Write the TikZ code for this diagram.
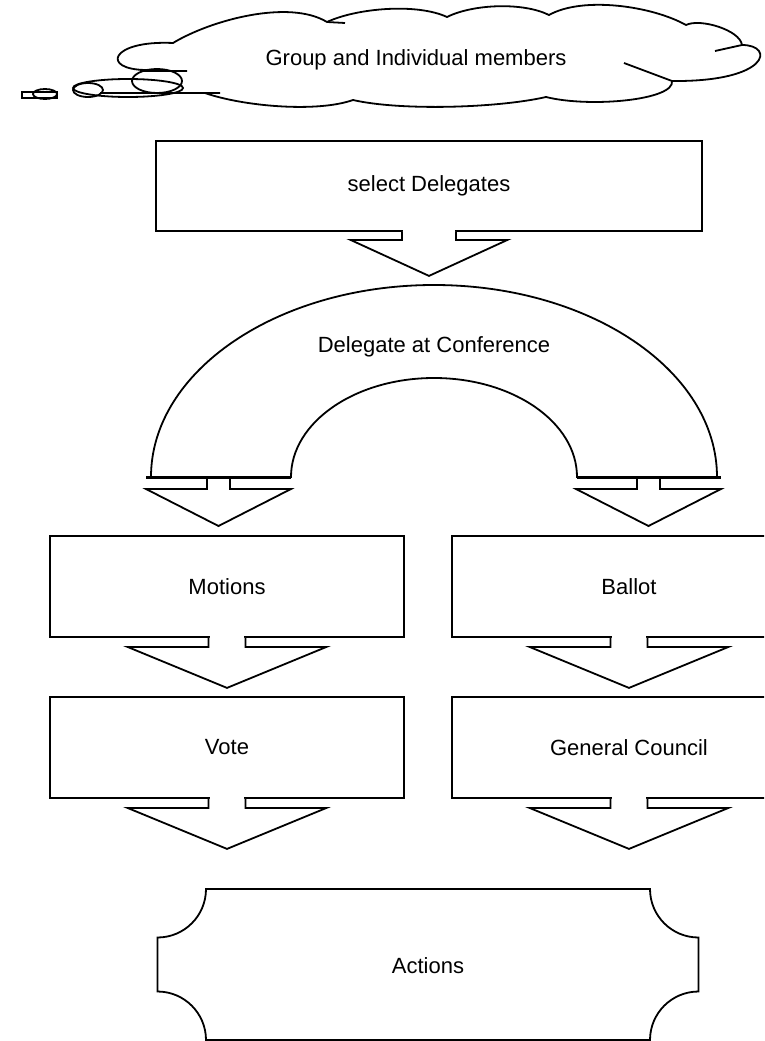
\documentclass[tikz,border=0pt]{standalone}
\usepackage{fontspec}
\setmainfont{Liberation Sans}
\begin{document}
\begin{tikzpicture}[x=1pt,y=-1pt,line width=1.8pt,
    blk/.style={draw,rectangle,inner sep=0pt,font=\fontsize{22}{26}\selectfont},
    lbl/.style={font=\fontsize{22}{26}\selectfont},
    pics/blockarrow/.style n args={4}{code={
        \fill[white] (-#1+1.3,-2.2) rectangle (#1-1.3,2.2);
        \draw[fill=white] (-#1,0) -- (-#1,#2) -- (-#3,#2) -- (0,#2+#4)
            -- (#3,#2) -- (#1,#2) -- (#1,0);
    }}
                   ]
    \clip (0,0) rectangle (764,1041);

    % cloud
    \draw (147,70) .. controls (100,70) and (110,40) .. (173,43)
        .. controls (211,20) and (289,-1) .. (327,22)
        .. controls (357,8) and (417,3) .. (447,17)
        .. controls (473,4) and (523,2) .. (549,15)
        .. controls (583,-4) and (652,6) .. (686,25)
        .. controls (700,18) and (740,30) .. (742,45)
        .. controls (775,45) and (770,82) .. (672,81)
        .. controls (675,100) and (590,108) .. (546,97)
        .. controls (498,108) and (401,111) .. (353,100)
        .. controls (316,113) and (242,106) .. (205,93);
    \draw (624,63) -- (672,81) (715,51) -- (742,45) (327,22) -- (345,23)
        (140,71) -- (187,71) (100,93) -- (220,93);
    \draw (157,81) ellipse[x radius=25,y radius=12];
    \draw (128,88) ellipse[x radius=55,y radius=9];
    \draw (88,90) ellipse[x radius=15,y radius=7];
    \draw (45,94) ellipse[x radius=12,y radius=5];
    \draw (22,92) rectangle (57,98);
    \node[lbl] (grp) at (416,60) {Group and Individual members};

    \node[blk,minimum width=546pt,minimum height=90pt] (sel) at (429,186) {select Delegates};
    \pic at (sel.south) {blockarrow={27}{8}{78.5}{36}};

    % arch
    \draw (151,477) arc[start angle=180,end angle=360,x radius=283,y radius=192]
        -- (577,477) arc[start angle=0,end angle=-180,x radius=143,y radius=99] -- cycle;
    \node[lbl] (conf) at (434,347) {Delegate at Conference};
    \coordinate (archL) at (218.5,477);
    \coordinate (archR) at (648.5,477);
    \pic at (archL) {blockarrow={11.5}{12}{72.5}{37}};
    \pic at (archR) {blockarrow={11.5}{12}{72.5}{37}};
    \draw[line width=3pt] (146,477) -- (291,477) (577,477) -- (721,477);

    \node[blk,minimum width=354pt,minimum height=101pt] (mot) at (227,586.5) {Motions};
    \node[blk,minimum width=354pt,minimum height=101pt] (bal) at (629,586.5) {Ballot};
    \node[blk,minimum width=354pt,minimum height=101pt] (vote) at (227,747.5) {Vote};
    \node[blk,minimum width=354pt,minimum height=101pt] (gc) at (629,747.5) {General Council};
    \pic at (mot.south) {blockarrow={18.5}{9}{99.5}{41}};
    \pic at (bal.south) {blockarrow={18.5}{9}{99.5}{41}};
    \pic at (vote.south) {blockarrow={18.5}{9}{99.5}{41}};
    \pic at (gc.south) {blockarrow={18.5}{9}{99.5}{41}};

    % actions
    \draw (206,889) -- (650,889) arc[start angle=180,end angle=90,radius=48.5]
        -- (698.5,991.5) arc[start angle=270,end angle=180,radius=48.5]
        -- (206,1040) arc[start angle=0,end angle=-90,radius=48.5]
        -- (157.5,937.5) arc[start angle=90,end angle=0,radius=48.5] -- cycle;
    \node[lbl] (act) at (428,966) {Actions};

\end{tikzpicture}
\end{document}
